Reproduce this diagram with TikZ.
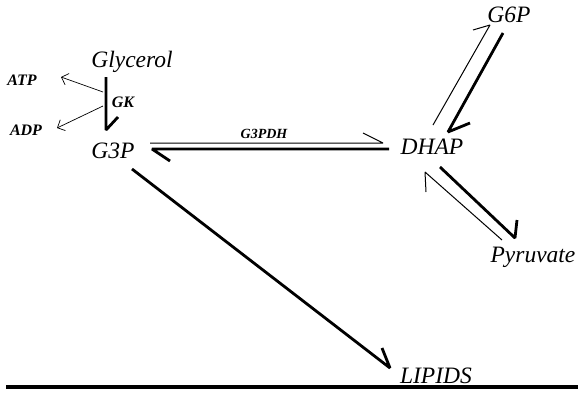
\documentclass[tikz,border=0pt]{standalone}
\usepackage{fontspec}
\setmainfont{Liberation Serif}
\usetikzlibrary{arrows.meta}
\tikzset{
  big/.style={font=\fontsize{23.5}{26}\selectfont\itshape, inner sep=0pt, anchor=base},
  small/.style={font=\fontsize{16}{18}\selectfont\bfseries\itshape, inner sep=0pt, anchor=base},
  thickarr/.style={line width=2.8pt, line join=bevel, line cap=butt},
  thinarr/.style={line width=1pt, line join=bevel},
  openarr/.style={line width=0.7pt, -{Straight Barb[length=6pt,width=12pt,line width=0.7pt]}}
}
\begin{document}
\begin{tikzpicture}[x=1pt,y=-1pt]
\useasboundingbox (0,0) rectangle (578,394);
% texts
\node[big] (glyc) at (132,67) {Glycerol};
\node[big] (g3p) at (113,158) {G3P};
\node[big] (dhap) at (432,154) {DHAP};
\node[big] (g6p) at (509,22) {G6P};
\node[big] (pyr) at (533,262) {Pyruvate};
\node[big] (lip) at (436,383) {LIPIDS};
\node[small] (atp) at (22,85) {ATP};
\node[small] (adp) at (26,135) {ADP};
\node[small] (gk) at (123,107) {GK};
\node[small, font=\fontsize{14}{16}\selectfont\bfseries\itshape] (g3pdh) at (264,138) {G3PDH};
% connector end points
\coordinate (gkS) at (106,77);
\coordinate (gkE) at (106,130);
\coordinate (atpS) at (103,92);
\coordinate (atpE) at (61,77);
\coordinate (adpS) at (103,106);
\coordinate (adpE) at (57,128);
\coordinate (fwS) at (150,143);
\coordinate (fwE) at (383,143);
\coordinate (bwS) at (389,149);
\coordinate (bwE) at (152,149);
\coordinate (upS) at (433,125);
\coordinate (upE) at (490,25);
\coordinate (dnS) at (503,33);
\coordinate (dnE) at (448,132);
\coordinate (pyS) at (440,167);
\coordinate (pyE) at (515,238);
\coordinate (prS) at (502,240);
\coordinate (prE) at (425,172);
\coordinate (lpS) at (132,169);
\coordinate (lpE) at (390,368);
\coordinate (ruleL) at (6,387);
\coordinate (ruleR) at (578,387);
% connectors
\draw[thickarr] (gkS) -- (gkE) -- ++(12,-13);
\draw[openarr] (atpS) -- (atpE);
\draw[openarr] (adpS) -- (adpE);
\draw[thinarr] (fwS) -- (fwE) -- ++(-20,-10);
\draw[thickarr] (bwS) -- (bwE) -- ++(18,12);
\draw[thinarr] (upS) -- (upE) -- ++(-17,5);
\draw[thickarr] (dnS) -- (dnE) -- ++(22,-9);
\draw[thickarr] (pyS) -- (pyE) -- ++(2,-18);
\draw[thinarr] (prS) -- (prE) -- ++(1,20);
\draw[thickarr] (lpS) -- (lpE) -- ++(-8,-20);
\draw[line width=3.5pt] (ruleL) -- (ruleR);
\end{tikzpicture}
\end{document}
